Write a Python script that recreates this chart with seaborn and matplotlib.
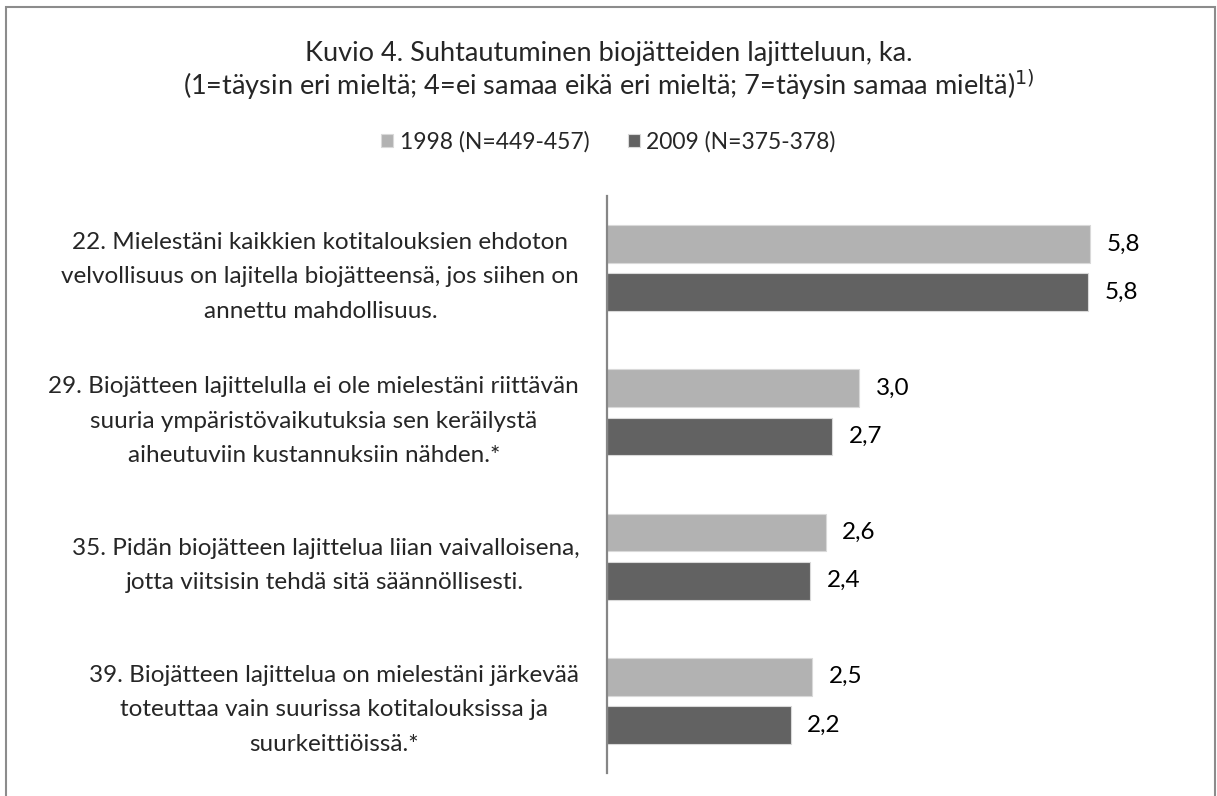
import seaborn as sns
import matplotlib.pyplot as plt
import pandas as pd

statements = [
    "22. Mielestäni kaikkien kotitalouksien ehdoton\nvelvollisuus on lajitella biojätteensä, jos siihen on\nannettu mahdollisuus.",
    "29. Biojätteen lajittelulla ei ole mielestäni riittävän\nsuuria ympäristövaikutuksia sen keräilystä\naiheutuviin kustannuksiin nähden.*",
    "35. Pidän biojätteen lajittelua liian vaivalloisena,\njotta viitsisin tehdä sitä säännöllisesti.",
    "39. Biojätteen lajittelua on mielestäni järkevää\ntoteuttaa vain suurissa kotitalouksissa ja\nsuurkeittiöissä.*",
]
mean_1998 = [5.79, 3.02, 2.62, 2.46]
mean_2009 = [5.76, 2.70, 2.43, 2.20]
series = ["1998 (N=449-457)", "2009 (N=375-378)"]
colors = ["#b2b2b2", "#626262"]

df = pd.DataFrame({
    "statement": statements * 2,
    "mean": mean_1998 + mean_2009,
    "year": [series[0]] * 4 + [series[1]] * 4,
})

sns.set_style("white")
plt.rcParams['font.family'] = ['Lato', 'DejaVu Sans']

fig = plt.figure(figsize=(12.17, 7.96), dpi=100)
ax = fig.add_axes([607 / 1217, 23 / 796, 584 / 1217, 577 / 796])

sns.barplot(data=df, y="statement", x="mean", hue="year", orient="h",
            palette=colors, width=0.6, dodge=True, ax=ax,
            edgecolor="#d9d9d9", linewidth=0.8, legend=True)

# thinner bars with a small gap inside each pair
bar_h = 0.262
for cont, off in zip(ax.containers, [-0.167, 0.167]):
    for i, p in enumerate(cont.patches):
        p.set_height(bar_h)
        p.set_y(i + off - bar_h / 2)

for cont, vals in zip(ax.containers, [mean_1998, mean_2009]):
    ax.bar_label(cont, labels=[f"{v:.1f}".replace(".", ",") for v in vals],
                 padding=12, fontsize=17.5, color="#000000")

ax.set_xlim(0, 7)
ax.set_ylim(3.5, -0.5)
ax.set_xlabel("")
ax.set_ylabel("")
ax.set_xticks([])
ax.set_yticklabels(statements, fontsize=17.5, multialignment="center", linespacing=1.8)
ax.tick_params(axis="y", length=0, pad=20)
for s in ["top", "right", "bottom"]:
    ax.spines[s].set_visible(False)
ax.spines["left"].set_color("#868686")
ax.spines["left"].set_linewidth(1.6)

handles, labels = ax.get_legend_handles_labels()
ax.get_legend().remove()
fig.legend(handles, labels, loc="center", bbox_to_anchor=(0.5, 1 - 142 / 796),
           ncol=2, frameon=False, fontsize=16.5, handlelength=0.52, handleheight=0.52,
           handletextpad=0.28, columnspacing=1.7)

fig.text(0.5, 1 - 61 / 796, "Kuvio 4. Suhtautuminen biojätteiden lajitteluun, ka.",
         ha="center", va="baseline", fontsize=19.5)
fig.text(0.5, 1 - 95 / 796,
         "(1=täysin eri mieltä; 4=ei samaa eikä eri mieltä; 7=täysin samaa mieltä)$^{1)}$",
         ha="center", va="baseline", fontsize=19.5)

fig.patches.append(plt.Rectangle((6 / 1217, -0.02), 1209 / 1217, 0.02 + 1 - 7 / 796,
                                 transform=fig.transFigure, fill=False,
                                 edgecolor="#8c8c8c", linewidth=1.5))

fig.savefig("out.png", dpi=100, facecolor="white")
